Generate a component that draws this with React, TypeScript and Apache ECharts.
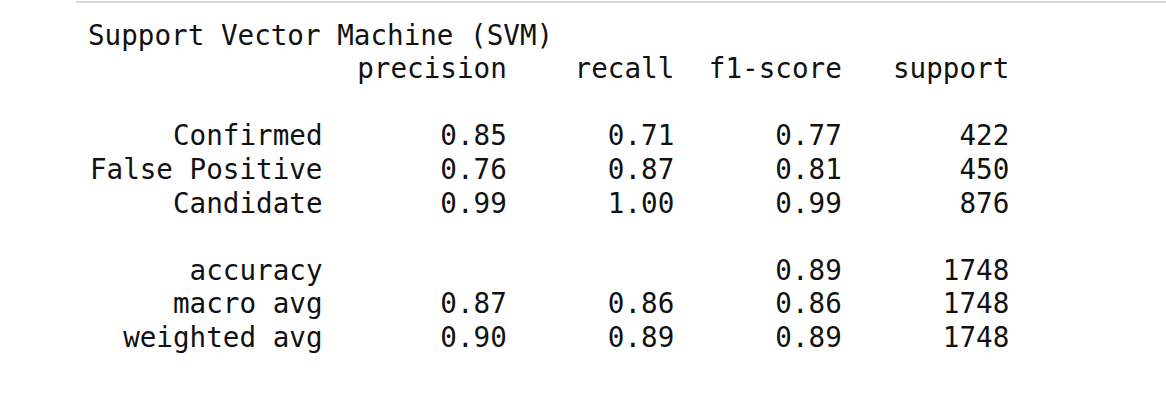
import { useEffect, useRef } from "react"
import * as echarts from "echarts"

const title = "Support Vector Machine (SVM)"
const headers = ["precision", "recall", "f1-score", "support"]
const classes = ["Confirmed", "False Positive", "Candidate"]
const precision = [0.85, 0.76, 0.99]
const recall = [0.71, 0.87, 1.0]
const f1 = [0.77, 0.81, 0.99]
const support = [422, 450, 876]
const accuracy = 0.89
const totalSupport = 1748
const avgNames = ["macro avg", "weighted avg"]
const avgPrecision = [0.87, 0.9]
const avgRecall = [0.86, 0.89]
const avgF1 = [0.86, 0.89]

export default function App() {
  const ref = useRef<HTMLDivElement>(null)

  useEffect(() => {
    if (!ref.current) return
    const chart = echarts.init(ref.current, undefined, { renderer: "svg" })

    const x0 = 88
    const cw = 16.75
    const y0 = 35
    const lh = 33.6
    const font = { fontFamily: "DejaVu Sans Mono", fontSize: 27.6, fill: "#111" }
    const nameWidth = Math.max(...classes.map((c) => c.length), ...avgNames.map((c) => c.length))
    const colEnd = (i: number) => nameWidth + 1 + 10 * (i + 1)

    const els: any[] = []
    const put = (text: string, endChar: number, line: number, align = "right") => {
      els.push({
        type: "text",
        x: align === "right" ? x0 + endChar * cw : x0,
        y: y0 + line * lh,
        style: { ...font, text, textAlign: align, textVerticalAlign: "middle" },
      })
    }

    put(title, 0, 0, "left")
    headers.forEach((h, i) => put(h, colEnd(i), 1))
    classes.forEach((c, r) => {
      const line = 3 + r
      put(c, nameWidth, line)
      put(precision[r].toFixed(2), colEnd(0), line)
      put(recall[r].toFixed(2), colEnd(1), line)
      put(f1[r].toFixed(2), colEnd(2), line)
      put(String(support[r]), colEnd(3), line)
    })
    put("accuracy", nameWidth, 7)
    put(accuracy.toFixed(2), colEnd(2), 7)
    put(String(totalSupport), colEnd(3), 7)
    avgNames.forEach((n, r) => {
      const line = 8 + r
      put(n, nameWidth, line)
      put(avgPrecision[r].toFixed(2), colEnd(0), line)
      put(avgRecall[r].toFixed(2), colEnd(1), line)
      put(avgF1[r].toFixed(2), colEnd(2), line)
      put(String(totalSupport), colEnd(3), line)
    })
    els.push({
      type: "line",
      shape: { x1: 76, y1: 2, x2: 1166, y2: 2 },
      style: { stroke: "#d8d8d8", lineWidth: 2 },
    })

    chart.setOption({ animation: false, backgroundColor: "#fff", graphic: els })
    return () => chart.dispose()
  }, [])

  return <div ref={ref} style={{ position: "fixed", left: 0, top: 0, width: 1166, height: 410 }} />
}
